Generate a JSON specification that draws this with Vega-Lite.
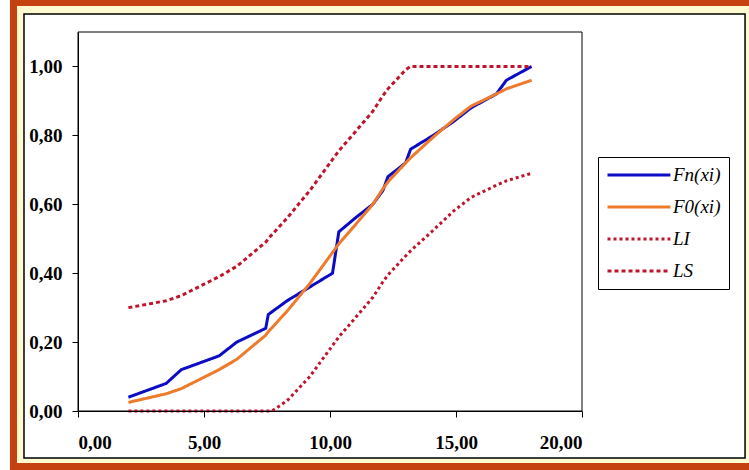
{
  "$schema": "https://vega.github.io/schema/vega-lite/v6.json",
  "width": 504,
  "height": 379,
  "autosize": {"type": "none"},
  "padding": {"left": 78, "top": 32, "right": 167, "bottom": 59},
  "background": "white",
  "config": {
    "view": {"stroke": null},
    "axis": {
      "zindex": 1,
      "grid": false,
      "domainColor": "black",
      "tickColor": "black",
      "tickSize": 6,
      "labelFont": "Liberation Serif",
      "labelFontWeight": "bold",
      "labelFontSize": 19,
      "labelColor": "black",
      "title": null
    }
  },
  "layer": [
    {
      "data": {"values": [{}]},
      "mark": {"type": "rect", "fill": "#C5410F", "clip": false},
      "encoding": {
        "x": {"datum": -2.7, "type": "quantitative", "scale": {"domain": [0, 20]}},
        "x2": {"datum": 27.1},
        "y": {"datum": 1.21, "type": "quantitative", "scale": {"domain": [0, 1.1]}},
        "y2": {"datum": -0.19}
      }
    },
    {
      "data": {"values": [{}]},
      "mark": {"type": "rect", "fill": "#FFF9D2", "clip": false},
      "encoding": {
        "x": {"datum": -2.42, "type": "quantitative"},
        "x2": {"datum": 27.1},
        "y": {"datum": 1.1756, "type": "quantitative"},
        "y2": {"datum": -0.151}
      }
    },
    {
      "data": {"values": [{}]},
      "mark": {"type": "rect", "fill": "white", "stroke": "black", "strokeWidth": 1.5, "clip": false},
      "encoding": {
        "x": {"datum": -2.143, "type": "quantitative"},
        "x2": {"datum": 26.47},
        "y": {"datum": 1.1524, "type": "quantitative"},
        "y2": {"datum": -0.1364}
      }
    },
    {
      "data": {"values": [{}]},
      "mark": {"type": "rect", "fill": null, "stroke": "black", "strokeWidth": 1, "clip": false},
      "encoding": {
        "x": {"datum": 0, "type": "quantitative"},
        "x2": {"datum": 20},
        "y": {"datum": 1.1, "type": "quantitative"},
        "y2": {"datum": 0}
      }
    },
    {
      "data": {
        "values": [
          {"x": 2.0, "serie": "Fn(xi)", "y": 0.04},
          {"x": 3.5, "serie": "Fn(xi)", "y": 0.08},
          {"x": 4.1, "serie": "Fn(xi)", "y": 0.12},
          {"x": 5.6, "serie": "Fn(xi)", "y": 0.16},
          {"x": 6.3, "serie": "Fn(xi)", "y": 0.20},
          {"x": 7.45, "serie": "Fn(xi)", "y": 0.24},
          {"x": 7.55, "serie": "Fn(xi)", "y": 0.28},
          {"x": 8.3, "serie": "Fn(xi)", "y": 0.32},
          {"x": 9.2, "serie": "Fn(xi)", "y": 0.36},
          {"x": 10.1, "serie": "Fn(xi)", "y": 0.40},
          {"x": 10.35, "serie": "Fn(xi)", "y": 0.52},
          {"x": 11.0, "serie": "Fn(xi)", "y": 0.56},
          {"x": 11.7, "serie": "Fn(xi)", "y": 0.60},
          {"x": 12.1, "serie": "Fn(xi)", "y": 0.64},
          {"x": 12.3, "serie": "Fn(xi)", "y": 0.68},
          {"x": 13.0, "serie": "Fn(xi)", "y": 0.72},
          {"x": 13.2, "serie": "Fn(xi)", "y": 0.76},
          {"x": 14.1, "serie": "Fn(xi)", "y": 0.80},
          {"x": 14.9, "serie": "Fn(xi)", "y": 0.84},
          {"x": 15.6, "serie": "Fn(xi)", "y": 0.88},
          {"x": 16.6, "serie": "Fn(xi)", "y": 0.92},
          {"x": 17.0, "serie": "Fn(xi)", "y": 0.96},
          {"x": 18.0, "serie": "Fn(xi)", "y": 1.00},

          {"x": 2.0, "serie": "F0(xi)", "y": 0.025},
          {"x": 3.5, "serie": "F0(xi)", "y": 0.05},
          {"x": 4.1, "serie": "F0(xi)", "y": 0.065},
          {"x": 5.6, "serie": "F0(xi)", "y": 0.12},
          {"x": 6.3, "serie": "F0(xi)", "y": 0.15},
          {"x": 7.45, "serie": "F0(xi)", "y": 0.22},
          {"x": 7.55, "serie": "F0(xi)", "y": 0.23},
          {"x": 8.3, "serie": "F0(xi)", "y": 0.29},
          {"x": 9.2, "serie": "F0(xi)", "y": 0.37},
          {"x": 10.1, "serie": "F0(xi)", "y": 0.46},
          {"x": 10.35, "serie": "F0(xi)", "y": 0.485},
          {"x": 11.0, "serie": "F0(xi)", "y": 0.54},
          {"x": 11.7, "serie": "F0(xi)", "y": 0.60},
          {"x": 12.1, "serie": "F0(xi)", "y": 0.645},
          {"x": 12.3, "serie": "F0(xi)", "y": 0.665},
          {"x": 13.0, "serie": "F0(xi)", "y": 0.72},
          {"x": 13.2, "serie": "F0(xi)", "y": 0.735},
          {"x": 14.1, "serie": "F0(xi)", "y": 0.795},
          {"x": 14.9, "serie": "F0(xi)", "y": 0.845},
          {"x": 15.6, "serie": "F0(xi)", "y": 0.885},
          {"x": 16.6, "serie": "F0(xi)", "y": 0.92},
          {"x": 17.0, "serie": "F0(xi)", "y": 0.935},
          {"x": 18.0, "serie": "F0(xi)", "y": 0.96},

          {"x": 2.0, "serie": "LI", "y": 0},
          {"x": 3.5, "serie": "LI", "y": 0},
          {"x": 4.1, "serie": "LI", "y": 0},
          {"x": 5.6, "serie": "LI", "y": 0},
          {"x": 6.3, "serie": "LI", "y": 0},
          {"x": 7.45, "serie": "LI", "y": 0},
          {"x": 7.7, "serie": "LI", "y": 0},
          {"x": 8.3, "serie": "LI", "y": 0.03},
          {"x": 9.2, "serie": "LI", "y": 0.10},
          {"x": 10.1, "serie": "LI", "y": 0.19},
          {"x": 10.35, "serie": "LI", "y": 0.215},
          {"x": 11.0, "serie": "LI", "y": 0.27},
          {"x": 11.7, "serie": "LI", "y": 0.33},
          {"x": 12.1, "serie": "LI", "y": 0.375},
          {"x": 12.3, "serie": "LI", "y": 0.395},
          {"x": 13.0, "serie": "LI", "y": 0.45},
          {"x": 13.2, "serie": "LI", "y": 0.465},
          {"x": 14.1, "serie": "LI", "y": 0.525},
          {"x": 14.9, "serie": "LI", "y": 0.58},
          {"x": 15.6, "serie": "LI", "y": 0.62},
          {"x": 16.6, "serie": "LI", "y": 0.655},
          {"x": 17.0, "serie": "LI", "y": 0.668},
          {"x": 18.0, "serie": "LI", "y": 0.69},

          {"x": 2.0, "serie": "LS", "y": 0.30},
          {"x": 3.5, "serie": "LS", "y": 0.32},
          {"x": 4.1, "serie": "LS", "y": 0.335},
          {"x": 5.6, "serie": "LS", "y": 0.39},
          {"x": 6.3, "serie": "LS", "y": 0.42},
          {"x": 7.45, "serie": "LS", "y": 0.49},
          {"x": 7.55, "serie": "LS", "y": 0.50},
          {"x": 8.3, "serie": "LS", "y": 0.56},
          {"x": 9.2, "serie": "LS", "y": 0.64},
          {"x": 10.1, "serie": "LS", "y": 0.73},
          {"x": 10.35, "serie": "LS", "y": 0.755},
          {"x": 11.0, "serie": "LS", "y": 0.81},
          {"x": 11.7, "serie": "LS", "y": 0.87},
          {"x": 12.1, "serie": "LS", "y": 0.915},
          {"x": 12.3, "serie": "LS", "y": 0.935},
          {"x": 13.0, "serie": "LS", "y": 0.99},
          {"x": 13.2, "serie": "LS", "y": 1.0},
          {"x": 14.1, "serie": "LS", "y": 1.0},
          {"x": 14.9, "serie": "LS", "y": 1.0},
          {"x": 15.6, "serie": "LS", "y": 1.0},
          {"x": 16.6, "serie": "LS", "y": 1.0},
          {"x": 17.0, "serie": "LS", "y": 1.0},
          {"x": 18.0, "serie": "LS", "y": 1.0}
        ]
      },
      "mark": {"type": "line", "clip": false},
      "encoding": {
        "x": {
          "field": "x", "type": "quantitative",
          "scale": {"domain": [0, 20]},
          "axis": {"zindex": 2, "values": [0, 5, 10, 15, 20], "labelPadding": 16, "labelExpr": "replace(format(datum.value, '.2f'), '.', ',')"}
        },
        "y": {
          "field": "y", "type": "quantitative",
          "scale": {"domain": [0, 1.1]},
          "axis": {"zindex": 2, "values": [0, 0.2, 0.4, 0.6, 0.8, 1.0], "labelPadding": 10, "labelExpr": "replace(format(datum.value, '.2f'), '.', ',')"}
        },
        "color": {
          "field": "serie", "type": "nominal",
          "scale": {"domain": ["Fn(xi)", "F0(xi)", "LI", "LS"], "range": ["#0C0CC4", "#EE7A2C", "#C0142C", "#C0142C"]},
          "legend": {
            "title": null,
            "orient": "none",
            "legendX": 520,
            "legendY": 125,
            "padding": 8,
            "strokeColor": "black",
            "fillColor": "white",
            "symbolType": "M-1,0H6.4",
            "symbolSize": 289,
            "labelFont": "Liberation Serif",
            "labelFontStyle": "italic",
            "labelFontSize": 19,
            "labelColor": "black",
            "labelOffset": 47,
            "labelExpr": "datum.label + '\u00a0\u00a0\u00a0\u00a0\u00a0'",
            "rowPadding": 12
          }
        },
        "strokeDash": {
          "field": "serie", "type": "nominal",
          "scale": {"domain": ["Fn(xi)", "F0(xi)", "LI", "LS"], "range": [[1, 0], [1, 0], [3, 3], [4, 3]]}
        },
        "strokeWidth": {
          "field": "serie", "type": "nominal",
          "scale": {"domain": ["Fn(xi)", "F0(xi)", "LI", "LS"], "range": [3, 3, 1.5, 2.5]}
        },
        "order": {"field": "x"}
      }
    }
  ]
}
